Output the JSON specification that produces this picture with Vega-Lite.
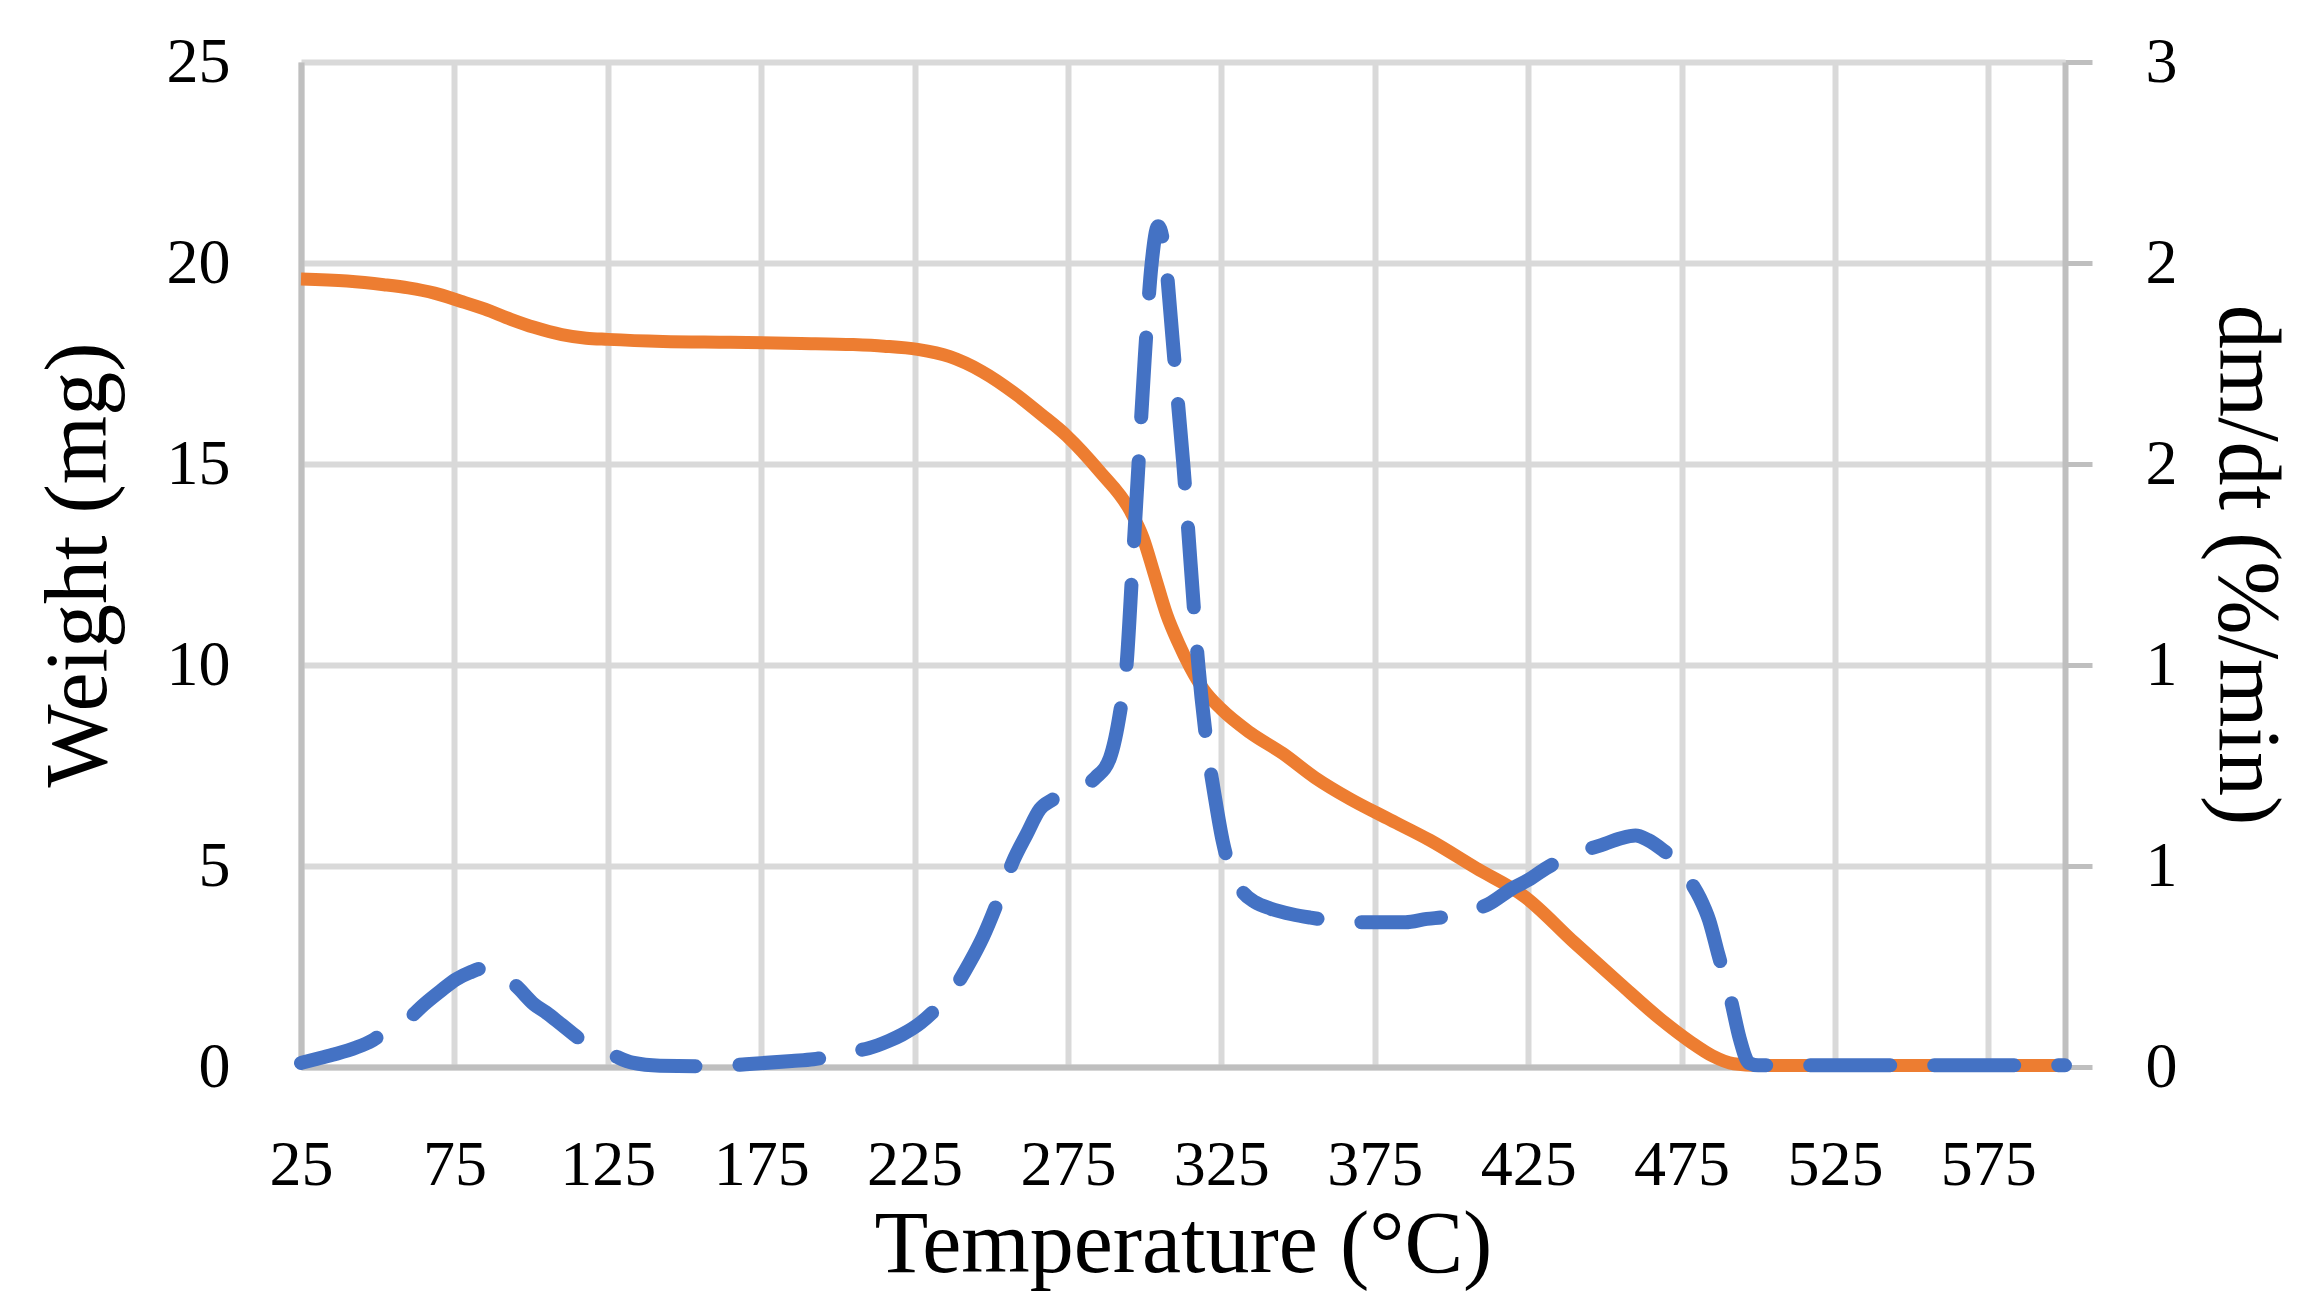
{
  "$schema": "https://vega.github.io/schema/vega-lite/v6.json",
  "description": "TGA weight loss and derivative curve",
  "width": 1764,
  "height": 1005,
  "autosize": {"type": "none"},
  "padding": {"left": 301, "top": 62, "right": 243, "bottom": 225},
  "background": "white",
  "config": {
    "view": {"stroke": null},
    "axis": {
      "labelFont": "Liberation Serif",
      "labelFontSize": 64,
      "labelColor": "black",
      "labelFlush": false,
      "titleFont": "Liberation Serif",
      "titleFontSize": 88,
      "titleFontWeight": "normal",
      "titleColor": "black",
      "gridColor": "#d9d9d9",
      "gridWidth": 6,
      "domainColor": "#bfbfbf",
      "domainWidth": 6,
      "tickColor": "#bfbfbf",
      "tickWidth": 5
    }
  },
  "datasets": {
    "weight": [
      {"T": 25, "weight": 19.6}, {"T": 40, "weight": 19.55}, {"T": 52, "weight": 19.46},
      {"T": 60, "weight": 19.38}, {"T": 68.5, "weight": 19.25}, {"T": 77, "weight": 19.05},
      {"T": 85, "weight": 18.85}, {"T": 93.4, "weight": 18.6}, {"T": 101, "weight": 18.4},
      {"T": 110, "weight": 18.22}, {"T": 118, "weight": 18.13}, {"T": 125, "weight": 18.1},
      {"T": 143, "weight": 18.05}, {"T": 165, "weight": 18.03}, {"T": 188, "weight": 18.0},
      {"T": 205, "weight": 17.97}, {"T": 215, "weight": 17.93}, {"T": 226, "weight": 17.85},
      {"T": 236.5, "weight": 17.67}, {"T": 247, "weight": 17.3}, {"T": 258.3, "weight": 16.72},
      {"T": 266, "weight": 16.25}, {"T": 274.6, "weight": 15.7}, {"T": 285.4, "weight": 14.81},
      {"T": 295.2, "weight": 13.85}, {"T": 299.5, "weight": 13.16}, {"T": 303, "weight": 12.3},
      {"T": 307.2, "weight": 11.25}, {"T": 311, "weight": 10.55}, {"T": 314.8, "weight": 9.95},
      {"T": 319.1, "weight": 9.4}, {"T": 325, "weight": 8.9}, {"T": 334.3, "weight": 8.32},
      {"T": 345, "weight": 7.8}, {"T": 355.5, "weight": 7.2}, {"T": 366.9, "weight": 6.67},
      {"T": 380, "weight": 6.15}, {"T": 393, "weight": 5.64}, {"T": 408, "weight": 4.95},
      {"T": 424, "weight": 4.23}, {"T": 440, "weight": 3.1}, {"T": 455, "weight": 2.07},
      {"T": 468, "weight": 1.2}, {"T": 478, "weight": 0.62}, {"T": 485, "weight": 0.28},
      {"T": 492, "weight": 0.08}, {"T": 500, "weight": 0.04}, {"T": 550, "weight": 0.04},
      {"T": 600, "weight": 0.04}
    ],
    "dmdt": [
      {"T": 25, "dmdt": 0.012}, {"T": 30, "dmdt": 0.024}, {"T": 36, "dmdt": 0.038},
      {"T": 43, "dmdt": 0.058}, {"T": 48, "dmdt": 0.078}, {"T": 52, "dmdt": 0.102},
      {"T": 56, "dmdt": 0.12}, {"T": 60, "dmdt": 0.144}, {"T": 65, "dmdt": 0.186},
      {"T": 70.5, "dmdt": 0.227}, {"T": 75.6, "dmdt": 0.262}, {"T": 80, "dmdt": 0.282},
      {"T": 85, "dmdt": 0.296}, {"T": 88, "dmdt": 0.294}, {"T": 91, "dmdt": 0.276},
      {"T": 96, "dmdt": 0.234}, {"T": 101, "dmdt": 0.187}, {"T": 105, "dmdt": 0.162},
      {"T": 110, "dmdt": 0.126}, {"T": 116, "dmdt": 0.083}, {"T": 123.5, "dmdt": 0.05},
      {"T": 128, "dmdt": 0.03}, {"T": 133, "dmdt": 0.013}, {"T": 142, "dmdt": 0.004},
      {"T": 160, "dmdt": 0.002}, {"T": 170, "dmdt": 0.008}, {"T": 185, "dmdt": 0.018},
      {"T": 192, "dmdt": 0.023}, {"T": 203.5, "dmdt": 0.045}, {"T": 210, "dmdt": 0.056},
      {"T": 216.6, "dmdt": 0.078}, {"T": 221, "dmdt": 0.097}, {"T": 227, "dmdt": 0.132},
      {"T": 232.5, "dmdt": 0.178}, {"T": 238, "dmdt": 0.236}, {"T": 243, "dmdt": 0.312},
      {"T": 247.3, "dmdt": 0.388}, {"T": 252.8, "dmdt": 0.51}, {"T": 257, "dmdt": 0.612},
      {"T": 261.5, "dmdt": 0.694}, {"T": 265.9, "dmdt": 0.77}, {"T": 270, "dmdt": 0.798},
      {"T": 273.5, "dmdt": 0.816}, {"T": 279, "dmdt": 0.834}, {"T": 284, "dmdt": 0.864},
      {"T": 288.7, "dmdt": 0.923}, {"T": 292, "dmdt": 1.06}, {"T": 294.1, "dmdt": 1.2},
      {"T": 296, "dmdt": 1.488}, {"T": 298, "dmdt": 1.8}, {"T": 300, "dmdt": 2.112},
      {"T": 302.3, "dmdt": 2.4}, {"T": 304.4, "dmdt": 2.51}, {"T": 306.5, "dmdt": 2.436},
      {"T": 309, "dmdt": 2.184}, {"T": 311, "dmdt": 1.968}, {"T": 312.6, "dmdt": 1.8},
      {"T": 315, "dmdt": 1.5}, {"T": 317.5, "dmdt": 1.2}, {"T": 320, "dmdt": 0.984},
      {"T": 323, "dmdt": 0.8}, {"T": 325.5, "dmdt": 0.672}, {"T": 328, "dmdt": 0.588},
      {"T": 332, "dmdt": 0.522}, {"T": 336, "dmdt": 0.492}, {"T": 341, "dmdt": 0.473},
      {"T": 348, "dmdt": 0.456}, {"T": 354, "dmdt": 0.446}, {"T": 360, "dmdt": 0.438},
      {"T": 372, "dmdt": 0.432}, {"T": 385, "dmdt": 0.432}, {"T": 392, "dmdt": 0.442},
      {"T": 398, "dmdt": 0.448}, {"T": 405, "dmdt": 0.462}, {"T": 412, "dmdt": 0.486},
      {"T": 420, "dmdt": 0.534}, {"T": 425, "dmdt": 0.558}, {"T": 431, "dmdt": 0.594},
      {"T": 437, "dmdt": 0.624}, {"T": 444, "dmdt": 0.648}, {"T": 450, "dmdt": 0.666},
      {"T": 455, "dmdt": 0.682}, {"T": 460, "dmdt": 0.691}, {"T": 464, "dmdt": 0.678},
      {"T": 469, "dmdt": 0.647}, {"T": 474, "dmdt": 0.607}, {"T": 478, "dmdt": 0.552},
      {"T": 481, "dmdt": 0.504}, {"T": 484, "dmdt": 0.438}, {"T": 487, "dmdt": 0.336},
      {"T": 491, "dmdt": 0.204}, {"T": 494, "dmdt": 0.084}, {"T": 497, "dmdt": 0.012},
      {"T": 500, "dmdt": 0.005}, {"T": 550, "dmdt": 0.005}, {"T": 600, "dmdt": 0.005}
    ]
  },
  "layer": [
    {
      "data": {"name": "weight"},
      "mark": {"type": "line", "color": "#ED7D31", "strokeWidth": 13, "interpolate": "monotone"},
      "encoding": {
        "x": {
          "field": "T",
          "type": "quantitative",
          "title": "Temperature (°C)",
          "scale": {"domain": [25, 600], "nice": false, "zero": false},
          "axis": {
            "values": [25, 75, 125, 175, 225, 275, 325, 375, 425, 475, 525, 575],
            "grid": true,
            "ticks": false,
            "labelPadding": 66,
            "titlePadding": 4
          }
        },
        "y": {
          "field": "weight",
          "type": "quantitative",
          "scale": {"domain": [0, 25], "nice": false},
          "axis": {
            "title": "Weight (mg)",
            "values": [0, 5, 10, 15, 20, 25],
            "grid": true,
            "ticks": false,
            "labelPadding": 71,
            "titlePadding": 43
          }
        }
      }
    },
    {
      "data": {"name": "dmdt"},
      "mark": {
        "type": "line",
        "color": "#4472C4",
        "strokeWidth": 14,
        "strokeDash": [80, 44],
        "strokeCap": "round",
        "interpolate": "monotone"
      },
      "encoding": {
        "x": {
          "field": "T",
          "type": "quantitative",
          "title": "Temperature (°C)",
          "scale": {"domain": [25, 600], "nice": false, "zero": false}
        },
        "y": {
          "field": "dmdt",
          "type": "quantitative",
          "scale": {"domain": [0, 3], "nice": false},
          "axis": {
            "orient": "right",
            "title": "dm/dt (%/min)",
            "values": [0, 0.6, 1.2, 1.8, 2.4, 3],
            "format": ".0f",
            "grid": false,
            "ticks": true,
            "tickSize": 27,
            "labelPadding": 53,
            "titlePadding": 24
          }
        }
      }
    }
  ],
  "resolve": {"scale": {"y": "independent"}}
}
